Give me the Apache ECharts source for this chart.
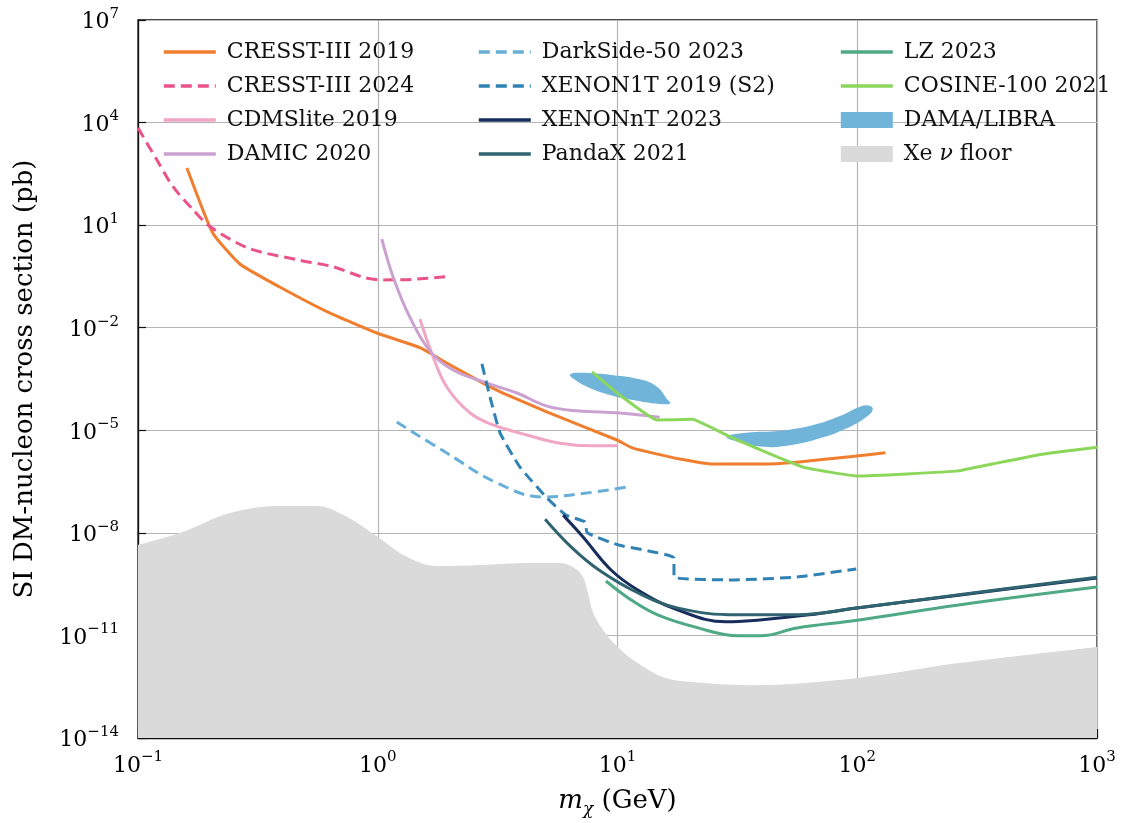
<!DOCTYPE html>
<html>
<head>
<meta charset="utf-8">
<script src="https://cdn.jsdelivr.net/npm/echarts@6/dist/echarts.min.js"></script>
<style>
  html, body { margin: 0; padding: 0; background: #fff; }
  #chart { width: 1123px; height: 823px; }
</style>
</head>
<body>
<div id="chart"></div>
<script>
const FONT = '"DejaVu Serif", "Liberation Serif", serif';

// Axis ranges and labelled ticks
const massRange = [0.1, 1000];
const xsRange = [1e-14, 1e7];
const xsTicks = [1e-14, 1e-11, 1e-8, 1e-5, 1e-2, 1e1, 1e4, 1e7];
const massMinorTicks = [
  0.2, 0.3, 0.4, 0.5, 0.6, 0.7, 0.8, 0.9,
  2, 3, 4, 5, 6, 7, 8, 9,
  20, 30, 40, 50, 60, 70, 80, 90,
  200, 300, 400, 500, 600, 700, 800, 900
];

// Exclusion limits: WIMP mass (GeV) and SI cross section (pb)
const cresst2019Mass = [0.16, 0.205, 0.266, 0.39, 0.63, 0.99, 1.5, 1.94, 2.75, 3.33, 5.1, 9.95, 11.6, 18.2, 25, 40, 56, 91, 131];
const cresst2019Xs   = [470, 5.9, 0.73, 0.155, 0.027, 0.0070, 0.0026, 9.3e-4, 2.4e-4, 1.23e-4, 3.4e-5, 5.2e-6, 3.0e-6, 1.44e-6, 1.03e-6, 1.03e-6, 1.17e-6, 1.66e-6, 2.2e-6];

const cresst2024Mass = [0.1, 0.12, 0.14, 0.17, 0.20, 0.29, 0.47, 0.65, 0.87, 1.05, 1.41, 1.91];
const cresst2024Xs   = [7000, 800, 133, 28, 9.0, 2.1, 0.95, 0.61, 0.30, 0.25, 0.26, 0.31];

const cdmsliteMass = [1.50, 1.68, 1.94, 2.43, 3.03, 4.19, 5.76, 7.9, 10.0];
const cdmsliteXs   = [0.018, 1.8e-3, 1.85e-4, 3.2e-5, 1.43e-5, 7.3e-6, 4.2e-6, 3.5e-6, 3.5e-6];

const damicMass = [1.04, 1.16, 1.36, 1.68, 2.06, 2.86, 3.81, 5.08, 6.78, 10.2, 15.0];
const damicXs   = [3.9, 0.30, 0.0206, 1.8e-3, 5.8e-4, 2.4e-4, 1.23e-4, 5.1e-5, 3.7e-5, 3.2e-5, 2.4e-5];

const darksideMass = [1.20, 1.94, 3.14, 4.89, 6.98, 11.0];
const darksideXs   = [1.75e-5, 2.16e-6, 2.9e-7, 1.12e-7, 1.38e-7, 2.2e-7];

const xenon1tMass = [2.72, 2.94, 3.24, 3.92, 5.08, 6.1, 7.31, 7.48, 10.1, 17.2, 17.2, 30.6, 56, 99];
const xenon1tXs   = [8.7e-4, 9.4e-5, 8.3e-6, 8.4e-7, 1.05e-7, 3.3e-8, 2.1e-8, 1.0e-8, 4.4e-9, 1.84e-9, 5.1e-10, 4.2e-10, 5.1e-10, 8.8e-10];

const xenonntMass = [5.93, 7.18, 9.4, 12.2, 17.9, 28.4, 38.2, 63, 100, 265, 1000];
const xenonntXs   = [3.3e-8, 7.6e-9, 8.2e-10, 2.1e-10, 5.5e-11, 2.5e-11, 2.8e-11, 4.0e-11, 6.3e-11, 1.5e-10, 4.8e-10];

const pandaxMass = [4.99, 6.4, 8.37, 12.2, 17.9, 31.5, 56, 99, 265, 1000];
const pandaxXs   = [2.5e-8, 3.9e-9, 8.2e-10, 1.74e-10, 6.3e-11, 4.0e-11, 4.0e-11, 6.3e-11, 1.55e-10, 5.0e-10];

const lzMass = [8.95, 11.4, 14.7, 21.7, 31.8, 39.7, 56, 100, 265, 1000];
const lzXs   = [3.9e-10, 1.09e-10, 4.0e-11, 1.66e-11, 9.8e-12, 9.8e-12, 1.66e-11, 2.8e-11, 7.8e-11, 2.6e-10];

const cosineMass = [7.83, 10.2, 14.6, 20.5, 29.5, 59.4, 100, 161, 263, 365, 590, 1000];
const cosineXs   = [5.1e-4, 1.08e-4, 2.0e-5, 2.1e-5, 6.4e-6, 8.4e-7, 4.6e-7, 5.3e-7, 6.5e-7, 1.03e-6, 2.0e-6, 3.2e-6];

// DAMA/LIBRA signal regions (closed contours)
const damaLowMass = [6.34, 6.98, 9.58, 12.4, 14.6, 16.2, 16.6, 15.0, 11.6, 9.3, 7.46, 6.52];
const damaLowXs   = [4.3e-4, 4.8e-4, 4.1e-4, 3.1e-4, 1.88e-4, 7.7e-5, 6.1e-5, 5.9e-5, 7.7e-5, 1.08e-4, 1.88e-4, 3.3e-4];
const damaHighMass = [28.5, 34.6, 47.6, 65.6, 84.7, 102.7, 113, 116, 109.5, 90.4, 69.9, 50.8, 40.6, 33.5];
const damaHighXs   = [6.5e-6, 8.5e-6, 9.7e-6, 1.43e-5, 2.6e-5, 4.9e-5, 5.2e-5, 3.9e-5, 2.5e-5, 1.14e-5, 5.8e-6, 3.5e-6, 3.3e-6, 4.2e-6];

// Xenon neutrino floor (upper edge)
const floorMass = [0.1, 0.15, 0.242, 0.39, 0.56, 0.745, 1.0, 1.32, 1.77, 2.67, 4.32, 5.74, 6.52, 7.18, 7.53, 7.91, 8.7, 10, 12.1, 15.5, 20, 36.4, 100, 265, 1000];
const floorXs   = [4.4e-9, 1.0e-8, 3.8e-8, 6.1e-8, 6.1e-8, 2.9e-8, 7.6e-9, 2.0e-9, 1.07e-9, 1.15e-9, 1.32e-9, 1.32e-9, 1.0e-9, 5.1e-10, 1.74e-10, 4.6e-11, 1.45e-11, 4.6e-12, 1.58e-12, 6.0e-13, 4.4e-13, 3.5e-13, 5.7e-13, 1.55e-12, 4.6e-12];

const zip = (a, b) => a.map((v, i) => [v, b[i]]);

function limitLine(name, mass, xs, color, dashed, smooth, z) {
  return {
    name, type: 'line', data: zip(mass, xs),
    symbol: 'none', showSymbol: false, smooth: smooth,
    clip: true, z: z || 3,
    itemStyle: { color },
    lineStyle: { color, width: 3, type: dashed ? [11, 6] : 'solid', cap: 'butt', join: 'round' },
    emphasis: { disabled: true }
  };
}

function contour(name, mass, xs, color) {
  const pts = zip(mass, xs);
  return {
    name, type: 'custom', data: pts, z: 2, clip: true,
    itemStyle: { color },
    encode: { x: 0, y: 1 },
    renderItem: (params, api) => {
      if (params.dataIndex !== 0) return null;
      return {
        type: 'polygon',
        shape: { points: pts.map(p => api.coord(p)), smooth: 0.45 },
        style: { fill: color }
      };
    }
  };
}

const supText = e => (e < 0 ? '\u2212' + (-e) : String(e));
const powLabel = v => '{b|10}{s|' + supText(Math.round(Math.log10(v))) + '}';
const tickRich = {
  b: { fontSize: 22, fontFamily: FONT, color: '#000', lineHeight: 27, verticalAlign: 'bottom' },
  s: { fontSize: 15, fontFamily: FONT, color: '#000', lineHeight: 10, verticalAlign: 'top' }
};

const LEGEND_FS = 22;
const legendText = { fontFamily: FONT, fontSize: LEGEND_FS, color: '#111', padding: [0, 0, 0, 6],
  rich: {
    r: { fontFamily: FONT, fontSize: LEGEND_FS, color: '#111' },
    i: { fontFamily: FONT, fontSize: LEGEND_FS, fontStyle: 'italic', color: '#111' }
  } };
// Line entries show only the stroke, filled entries a plain block
const lineEntry = name => ({ name, itemStyle: { opacity: 0 }, lineStyle: { width: 3.6 } });
const fillEntry = name => ({ name, icon: 'rect' });
function legendCol(left, entries) {
  return {
    orient: 'vertical', left, top: 36, itemWidth: 52, itemHeight: 16, itemGap: 12,
    data: entries, textStyle: legendText, selectedMode: false,
    formatter: n => n === 'Xe \u03bd floor' ? '{r|Xe }{i|\u03bd}{r| floor}' : n
  };
}

const option = {
  animation: false,
  backgroundColor: '#fff',
  grid: { left: 138, right: 26, top: 20, bottom: 85, show: true, borderColor: '#111', borderWidth: 1.3, backgroundColor: 'transparent' },
  legend: [
    legendCol(157, ['CRESST-III 2019', 'CRESST-III 2024', 'CDMSlite 2019', 'DAMIC 2020'].map(lineEntry)),
    legendCol(472, ['DarkSide-50 2023', 'XENON1T 2019 (S2)', 'XENONnT 2023', 'PandaX 2021'].map(lineEntry)),
    legendCol(834, [lineEntry('LZ 2023'), lineEntry('COSINE-100 2021'), fillEntry('DAMA/LIBRA'), fillEntry('Xe \u03bd floor')])
  ],
  xAxis: [
    {
      type: 'log', min: massRange[0], max: massRange[1], logBase: 10,
      name: '{i|m}{sub|\u03c7}{r| (GeV)}', nameLocation: 'middle', nameGap: 50,
      nameTextStyle: { rich: {
        i: { fontFamily: FONT, fontSize: 26, fontStyle: 'italic', color: '#000', lineHeight: 30, verticalAlign: 'top' },
        sub: { fontFamily: FONT, fontSize: 17, fontStyle: 'italic', color: '#000', lineHeight: 17, verticalAlign: 'bottom' },
        r: { fontFamily: FONT, fontSize: 26, color: '#000', lineHeight: 30, verticalAlign: 'top' }
      } },
      axisLine: { lineStyle: { color: '#111', width: 1.3 } },
      axisTick: { inside: true, length: 9, lineStyle: { color: '#111', width: 1.2 } },
      axisLabel: { formatter: powLabel, rich: tickRich, margin: 12 },
      splitLine: { show: true, lineStyle: { color: '#b5b5b5', width: 1.2 } }
    },
    {
      type: 'log', min: massRange[0], max: massRange[1], logBase: 10, position: 'bottom',
      axisLine: { show: false },
      axisTick: { inside: true, length: 5, customValues: massMinorTicks, lineStyle: { color: '#111', width: 1 } },
      axisLabel: { show: false },
      splitLine: { show: false }
    }
  ],
  yAxis: {
    type: 'log', min: xsRange[0], max: xsRange[1], logBase: 10,
    name: 'SI DM-nucleon cross section (pb)', nameLocation: 'middle', nameGap: 100, nameRotate: 90,
    nameTextStyle: { fontFamily: FONT, fontSize: 26, color: '#000' },
    axisLine: { lineStyle: { color: '#111', width: 1.3 } },
    axisTick: { inside: true, length: 8, customValues: xsTicks, lineStyle: { color: '#111', width: 1.2 } },
    axisLabel: { formatter: powLabel, rich: tickRich, margin: 19, customValues: xsTicks },
    splitLine: { show: true, lineStyle: { color: '#b5b5b5', width: 1.2 } }
  },
  series: [
    {
      name: 'Xe \u03bd floor', type: 'line', data: zip(floorMass, floorXs),
      symbol: 'none', smooth: 0.35, z: 1, clip: true,
      itemStyle: { color: '#dadada' },
      lineStyle: { width: 0 },
      areaStyle: { color: '#dadada', opacity: 1, origin: 'start' }
    },
    contour('DAMA/LIBRA', damaLowMass, damaLowXs, '#70b4d9'),
    contour('DAMA/LIBRA', damaHighMass, damaHighXs, '#70b4d9'),
    limitLine('CRESST-III 2019', cresst2019Mass, cresst2019Xs, '#ef7f2e', false, 0.15),
    limitLine('CRESST-III 2024', cresst2024Mass, cresst2024Xs, '#e9538a', true, 0.3),
    limitLine('CDMSlite 2019', cdmsliteMass, cdmsliteXs, '#f2a6c5', false, 0.4),
    limitLine('DAMIC 2020', damicMass, damicXs, '#cba1d2', false, 0.4),
    limitLine('DarkSide-50 2023', darksideMass, darksideXs, '#68afd8', true, 0.4),
    limitLine('XENON1T 2019 (S2)', xenon1tMass, xenon1tXs, '#3182b4', true, 0.15),
    limitLine('XENONnT 2023', xenonntMass, xenonntXs, '#172e5c', false, 0.4),
    limitLine('PandaX 2021', pandaxMass, pandaxXs, '#2f6370', false, 0.4),
    limitLine('LZ 2023', lzMass, lzXs, '#4fa985', false, 0.4),
    limitLine('COSINE-100 2021', cosineMass, cosineXs, '#8cd65c', false, 0.1)
  ]
};

const chart = echarts.init(document.getElementById('chart'), null, { renderer: 'canvas' });
chart.setOption(option);
</script>
</body>
</html>
